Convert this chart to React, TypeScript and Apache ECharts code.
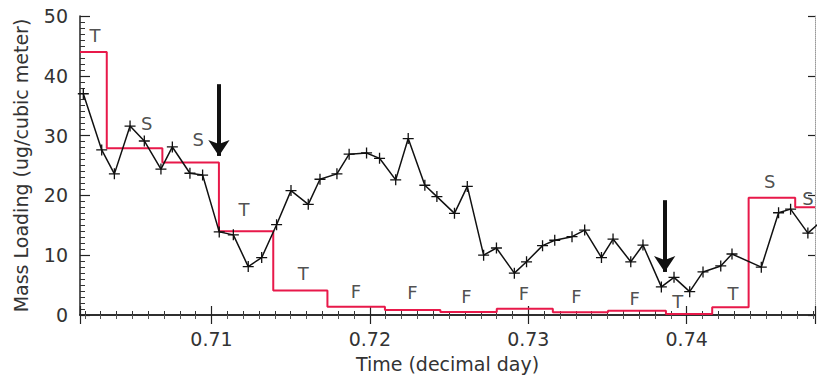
import React, { useEffect, useRef } from "react";
import * as echarts from "echarts";

// Axis extent (decimal day)
const timeMin = 0.7017;
const timeMax = 0.7481;
const massMin = 0;
const massMax = 50;

// Black measured series: time (decimal day) and mass loading (ug/m^3)
const sampleTimes = [
  0.70191, 0.70307, 0.70387, 0.70486, 0.70576, 0.70681, 0.70753, 0.70864, 0.70944, 0.71049,
  0.71138, 0.71232, 0.71317, 0.71411, 0.71502, 0.71611, 0.71685, 0.71792, 0.71869, 0.71979,
  0.72061, 0.72163, 0.72242, 0.72347, 0.72423, 0.72534, 0.72615, 0.72718, 0.72799, 0.72912,
  0.72989, 0.7309, 0.73167, 0.73276, 0.73356, 0.73462, 0.73535, 0.73647, 0.73724, 0.7384,
  0.7392, 0.74019, 0.74103, 0.74215, 0.74286, 0.74471, 0.7458, 0.74656, 0.74765, 0.74877,
];
const massLoading = [
  37.0, 27.6, 23.6, 31.6, 29.1, 24.4, 28.1, 23.7, 23.4, 13.9,
  13.4, 8.1, 9.6, 15.1, 20.8, 18.5, 22.7, 23.6, 26.9, 27.1,
  26.2, 22.6, 29.5, 21.7, 19.8, 17.0, 21.5, 10.0, 11.2, 7.0,
  8.9, 11.6, 12.5, 13.1, 14.2, 9.6, 12.7, 8.9, 11.7, 4.7,
  6.3, 3.9, 7.2, 8.2, 10.2, 8.0, 17.1, 17.7, 13.7, 16.3,
];

// Red step series: start time of each interval and its level
const stepStarts = [
  0.7017, 0.70339, 0.7069, 0.71047, 0.7139, 0.71732, 0.72095, 0.72445,
  0.72801, 0.73155, 0.73503, 0.73869, 0.74161, 0.74391, 0.74685,
];
const stepLevels = [
  44.0, 27.9, 25.5, 14.0, 4.1, 1.4, 0.85, 0.5,
  1.05, 0.45, 0.7, 0.15, 1.3, 19.6, 18.0,
];

// Letter annotations
const tagTimes = [
  0.70265, 0.70591, 0.70917, 0.71205, 0.71579, 0.71912, 0.72269, 0.7261,
  0.72972, 0.73304, 0.73672, 0.73943, 0.74292, 0.74524, 0.74765,
];
const tagValues = [
  46.8, 32.1, 29.3, 17.6, 7.0, 3.9, 3.7, 3.1,
  3.6, 3.1, 2.8, 2.2, 3.6, 22.3, 19.5,
];
const tagTexts = ["T", "S", "S", "T", "T", "F", "F", "F", "F", "F", "F", "T", "T", "S", "S"];

// Arrows
const arrowTimes = [0.71047, 0.73861];
const arrowTops = [38.6, 19.2];
const arrowTips = [26.6, 7.2];

const FONT = "DejaVu Sans";
const RED = "#e8194a";

export default function App() {
  const ref = useRef<HTMLDivElement>(null);

  useEffect(() => {
    if (!ref.current) return;
    const chart = echarts.init(ref.current, undefined, { renderer: "svg" });

    const stepData = stepStarts.map((t, i) => [t, stepLevels[i]]);
    stepData.push([timeMax, stepLevels[stepLevels.length - 1]]);

    const xLabelFmt = (v: number) =>
      Math.abs(v * 100 - Math.round(v * 100)) < 1e-6 ? v.toFixed(2) : "";

    const option: any = {
      animation: false,
      backgroundColor: "#ffffff",
      grid: { left: 80, right: 2, top: 16, bottom: 64, containLabel: false },
      xAxis: [
        {
          type: "value",
          position: "bottom",
          min: timeMin,
          max: timeMax,
          splitNumber: 5,
          name: "Time (decimal day)",
          nameLocation: "middle",
          nameGap: 39,
          nameTextStyle: { fontFamily: FONT, fontSize: 19, color: "#333" },
          axisLine: { show: true, lineStyle: { color: "#222", width: 1.5 } },
          axisTick: { show: true, inside: true, length: 9, lineStyle: { color: "#222", width: 1.2 } },
          minorTick: { show: true, splitNumber: 10, length: 4, lineStyle: { color: "#333", width: 1 } },
          axisLabel: {
            fontFamily: FONT,
            fontSize: 19,
            color: "#333",
            margin: 14,
            showMinLabel: false,
            showMaxLabel: false,
            formatter: xLabelFmt,
          },
          splitLine: { show: false },
          minorSplitLine: { show: false },
        },
        {
          type: "value",
          position: "top",
          min: timeMin,
          max: timeMax,
          splitNumber: 5,
          axisLine: { show: true, lineStyle: { color: "#222", width: 1.5 } },
          axisTick: { show: true, inside: true, length: 9, lineStyle: { color: "#222", width: 1.2 } },
          minorTick: { show: true, splitNumber: 10, length: 4, lineStyle: { color: "#555", width: 1 } },
          axisLabel: { show: false },
          splitLine: { show: false },
        },
      ],
      yAxis: [
        {
          type: "value",
          position: "left",
          min: massMin,
          max: massMax,
          interval: 10,
          name: "Mass Loading (ug/cubic meter)",
          nameLocation: "middle",
          nameGap: 50,
          nameTextStyle: { fontFamily: FONT, fontSize: 19, color: "#333" },
          axisLine: { show: true, lineStyle: { color: "#222", width: 1.5 } },
          axisTick: { show: true, inside: true, length: 10, lineStyle: { color: "#222", width: 1.2 } },
          minorTick: { show: true, splitNumber: 10, length: 5, lineStyle: { color: "#333", width: 1 } },
          axisLabel: { fontFamily: FONT, fontSize: 19, color: "#333", margin: 12 },
          splitLine: { show: false },
        },
        {
          type: "value",
          position: "right",
          min: massMin,
          max: massMax,
          interval: 10,
          axisLine: { show: true, lineStyle: { color: "#999", width: 1, type: "dotted" } },
          axisTick: { show: true, inside: true, length: 7, lineStyle: { color: "#222", width: 1.2 } },
          axisLabel: { show: false },
          splitLine: { show: false },
        },
      ],
      series: [
        {
          name: "Model",
          type: "line",
          step: "end",
          data: stepData,
          showSymbol: false,
          symbol: "none",
          lineStyle: { color: RED, width: 2 },
          z: 2,
          silent: true,
        },
        {
          name: "Measured",
          type: "line",
          data: sampleTimes.map((t, i) => [t, massLoading[i]]),
          symbol: "path://M0,5L10,5M5,0L5,10",
          symbolSize: 11,
          showSymbol: true,
          itemStyle: { color: "none", borderColor: "#111", borderWidth: 1.3 },
          lineStyle: { color: "#111", width: 1.5 },
          z: 3,
          silent: true,
          markLine: {
            silent: true,
            symbol: ["none", "arrow"],
            symbolSize: 16,
            label: { show: false },
            lineStyle: { color: "#111", width: 4, type: "solid" },
            data: arrowTimes.map((t, i) => [
              { coord: [t, arrowTops[i]] },
              { coord: [t, arrowTips[i]] },
            ]),
          },
        },
        {
          name: "Tags",
          type: "scatter",
          data: tagTimes.map((t, i) => [t, tagValues[i], tagTexts[i]]),
          symbolSize: 1,
          itemStyle: { color: "rgba(0,0,0,0)" },
          label: {
            show: true,
            position: "inside",
            formatter: (p: any) => p.data[2],
            fontFamily: FONT,
            fontSize: 18,
            color: "#222",
          },
          z: 4,
          silent: true,
        },
      ],
    };

    chart.setOption(option);
    return () => chart.dispose();
  }, []);

  return (
    <div
      ref={ref}
      style={{ position: "fixed", left: 0, top: 0, width: 817, height: 379, background: "#fff" }}
    />
  );
}
